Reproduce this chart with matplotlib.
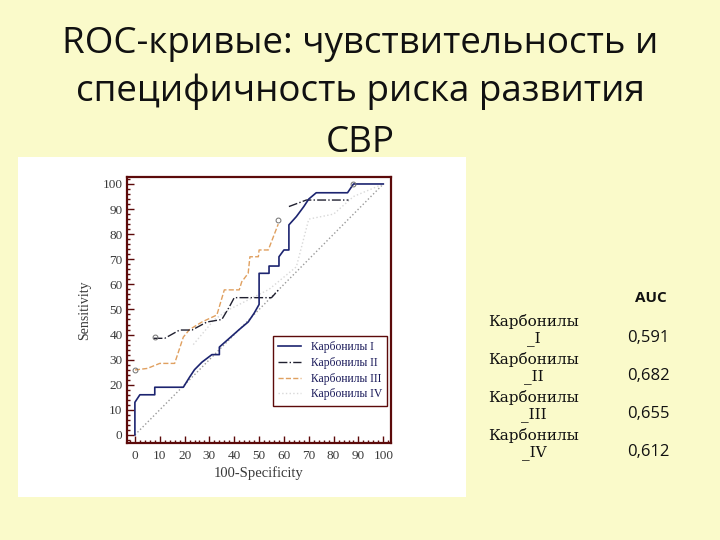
import matplotlib
matplotlib.use('Agg')
import matplotlib.pyplot as plt
import numpy as np
from matplotlib.ticker import MultipleLocator

BG = '#FAFACA'
FRAME = '#5c0a0a'

# ROC curves (x = 100-Specificity, y = Sensitivity)
curve1_x = [0, 0, 2, 8, 8, 19.5, 22, 24, 27, 31, 34, 34, 38, 42, 45.6, 48, 50, 50, 54, 54, 58, 58, 60, 62, 62, 65, 68, 70, 73, 85.6, 88, 100]
curve1_y = [0, 13, 16, 16, 19, 19, 23, 26, 29, 32, 32, 35, 38.5, 42, 45, 48.5, 52, 64.4, 64.4, 67.3, 67.3, 71, 73.7, 73.7, 83.7, 87, 91, 94, 96.5, 96.5, 100, 100]

curve2_x = [7.5, 12, 18, 23, 29, 35, 38, 40, 55, 58, np.nan, 62, 69, 86]
curve2_y = [38.5, 38.5, 41.8, 41.8, 45, 46, 51, 54.7, 54.7, 58, np.nan, 91, 93.6, 93.6]

curve3_x = [0, 5, 10, 16, 19.5, 22, 27, 33, 36, 42, 43, 45.6, 46.3, 49.7, 50, 53.7, 57.7]
curve3_y = [25.9, 26.5, 28.5, 28.5, 39, 42, 45, 47.8, 57.8, 57.8, 61, 64.4, 71, 71, 73.7, 73.7, 84]

curve4_x = [23.5, 32, 38, 54, 65, 70, 80, 88, 100]
curve4_y = [36, 46, 50, 58, 67, 86, 88, 95, 100]

diag_x = [0, 100]
diag_y = [0, 100]

cut_x = [0, 8, 57.7, 88]
cut_y = [26, 39, 85.5, 100]

legend_labels = ['Карбонилы I', 'Карбонилы II', 'Карбонилы III', 'Карбонилы IV']
table_rows = ['Карбонилы\n_I', 'Карбонилы\n_II', 'Карбонилы\n_III', 'Карбонилы\n_IV']
auc_values = ['0,591', '0,682', '0,655', '0,612']

title_lines = ['ROC-кривые: чувствительность и', 'специфичность риска развития', 'СВР']

fig = plt.figure(figsize=(7.2, 5.4), dpi=100)
fig.patch.set_facecolor(BG)

# white panel holding the pasted chart
panel = fig.add_axes([18 / 720, 1 - 497 / 540, 448 / 720, 340 / 540], zorder=-5)
panel.set_facecolor('white')
panel.set_xticks([])
panel.set_yticks([])
for sp in panel.spines.values():
    sp.set_visible(False)

ax = fig.add_axes([126.7 / 720, 1 - 442.7 / 540, 264.3 / 720, 266 / 540], zorder=1)
ax.set_facecolor('white')

ax.plot(diag_x, diag_y, linestyle=':', color='#9a9a9a', lw=1.0)
ax.plot(curve4_x, curve4_y, linestyle=':', color='#d8d8d8', lw=1.0, label=legend_labels[3])
ax.plot(curve3_x, curve3_y, linestyle='--', color='#e0a060', lw=1.0, label=legend_labels[2])
ax.plot(curve2_x, curve2_y, linestyle='-.', color='#202030', lw=1.0, label=legend_labels[1])
ax.plot(curve1_x, curve1_y, linestyle='-', color='#1c2470', lw=1.2, label=legend_labels[0])
ax.plot(cut_x, cut_y, linestyle='none', marker='o', mfc='none', mec='#707070', ms=3.5, mew=0.7)

ax.set_xlim(-3.3, 103.1)
ax.set_ylim(-3.1, 102.9)
ax.xaxis.set_major_locator(MultipleLocator(10))
ax.xaxis.set_minor_locator(MultipleLocator(2))
ax.yaxis.set_major_locator(MultipleLocator(10))
ax.yaxis.set_minor_locator(MultipleLocator(2))
ax.tick_params(which='both', direction='in', color=FRAME, labelcolor='#3a3a3a',
               labelsize=9.5, width=1.0)
ax.tick_params(axis='x', pad=5)
ax.tick_params(axis='y', pad=3)
ax.tick_params(which='major', length=5)
ax.tick_params(which='minor', length=2.5)
for lab in ax.get_xticklabels() + ax.get_yticklabels():
    lab.set_family('Liberation Serif')
for sp in ax.spines.values():
    sp.set_color(FRAME)
    sp.set_linewidth(1.6)

ax.set_xlabel('100-Specificity', family='Liberation Serif', fontsize=10.5, color='#3a3a3a', labelpad=3)
ax.set_ylabel('Sensitivity', family='Liberation Serif', fontsize=10, color='#3a3a3a', labelpad=8)

handles, labels = ax.get_legend_handles_labels()
order = [3, 2, 1, 0]
leg = ax.legend([handles[i] for i in order], [labels[i] for i in order],
                loc='lower right', bbox_to_anchor=(0.985, 0.139), borderaxespad=0,
                fancybox=False, prop={'family': 'Liberation Serif', 'size': 8.4},
                handlelength=2.0, borderpad=0.45, labelspacing=0.32, framealpha=1)
leg.get_frame().set_edgecolor(FRAME)
leg.get_frame().set_linewidth(1.0)
for t in leg.get_texts():
    t.set_color('#1a1a5a')

# title
for line, y in zip(title_lines, [53, 101, 152]):
    fig.text(0.5, 1 - y / 540, line, ha='center', va='baseline', fontsize=26.5,
             family='Open Sans', color='#111111')

# AUC table on the right
fig.text(651 / 720, 1 - 298 / 540, 'AUC', ha='center', va='center', fontsize=11,
         family='Open Sans', weight='bold', color='#111111')
for i, (row, val) in enumerate(zip(table_rows, auc_values)):
    yc = 330 + 38 * i
    fig.text(534 / 720, 1 - yc / 540, row, ha='center', va='center', fontsize=11,
             family='DejaVu Serif', linespacing=1.15, color='#111111')
    fig.text(648 / 720, 1 - (yc + 8) / 540, val, ha='center', va='center', fontsize=12,
             family='Open Sans', color='#111111')

fig.savefig('out.png', dpi=100, facecolor=BG)
